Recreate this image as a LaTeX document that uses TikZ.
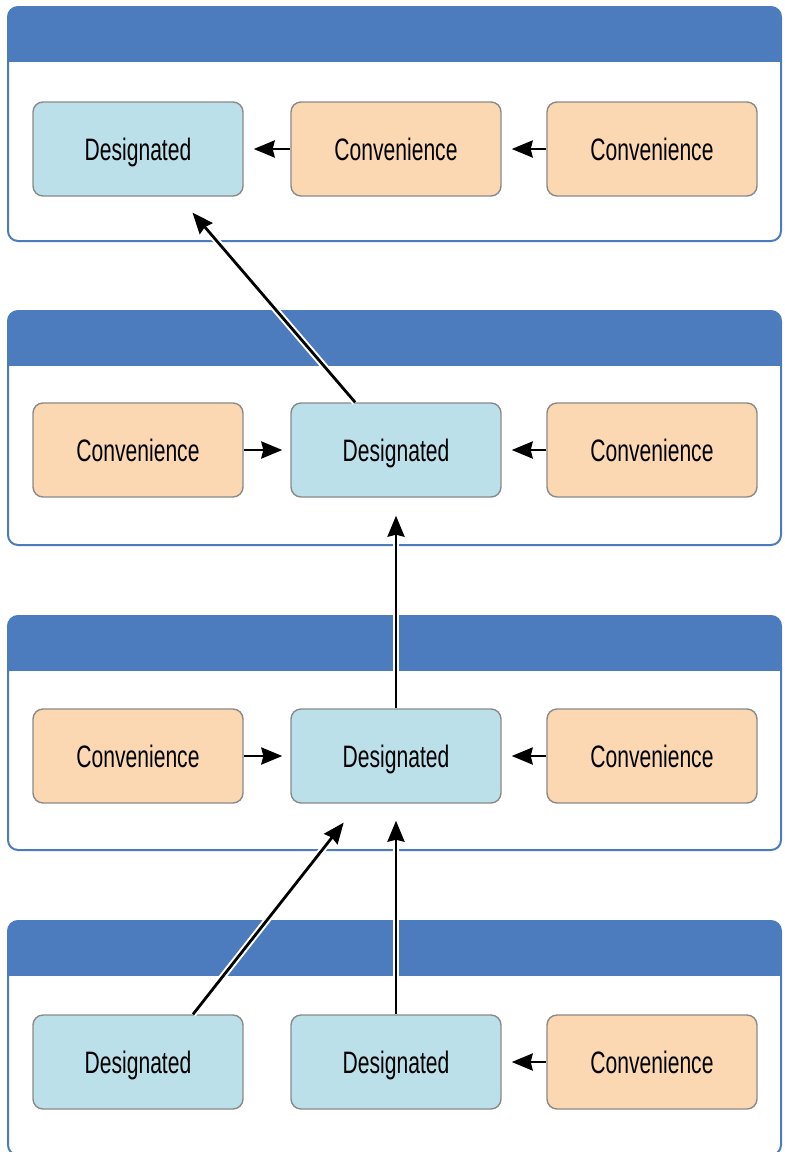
\documentclass[tikz,border=0pt]{standalone}
\usepackage{fontspec}
\setmainfont{Liberation Sans}[FakeStretch=0.68]
\usetikzlibrary{arrows.meta}
\definecolor{headblue}{RGB}{76,124,189}
\definecolor{desig}{RGB}{187,224,234}
\definecolor{conv}{RGB}{251,216,177}
\definecolor{boxline}{RGB}{138,138,138}

\begin{document}
\begin{tikzpicture}[x=0.5pt, y=-0.5pt,
	box/.style={draw=boxline, line width=0.7pt, rounded corners=5pt,
		minimum width=105pt, minimum height=47pt, inner sep=0pt,
		text height=11pt, text depth=0pt,
		font=\fontsize{15.5pt}{18pt}\selectfont},
	arr/.style={-{Stealth[length=10.5pt,width=8.5pt,inset=1pt]}, line width=1.4pt,
		preaction={draw=white, line width=3.4pt, -}}]
			\useasboundingbox (0,0) rectangle (784,1152);
			\clip (0,0) rectangle (784,1152);
			% the four class panels
			\foreach \t in {7,311,616,921} {
				\begin{scope}
					\clip[rounded corners=5pt] (8,\t) rectangle (781,\t+234);
					\fill[white] (8,\t) rectangle (781,\t+234);
					\fill[headblue] (8,\t) rectangle (781,\t+55);
				\end{scope}
				\draw[headblue, line width=1pt, rounded corners=5pt] (8,\t) rectangle (781,\t+234);
			}
			\node	(a) at (138,149) [box, fill=desig] {Designated};
			\node	(b) at (396,149) [box, fill=conv] {Convenience};
			\node	(c) at (652,149) [box, fill=conv] {Convenience};
			\node	(d) at (138,450) [box, fill=conv] {Convenience};
			\node	(e) at (396,450) [box, fill=desig] {Designated};
			\node	(f) at (652,450) [box, fill=conv] {Convenience};
			\node	(g) at (138,756) [box, fill=conv] {Convenience};
			\node	(h) at (396,756) [box, fill=desig] {Designated};
			\node	(i) at (652,756) [box, fill=conv] {Convenience};
			\node	(j) at (138,1062) [box, fill=desig] {Designated};
			\node	(k) at (396,1062) [box, fill=desig] {Designated};
			\node	(l) at (652,1062) [box, fill=conv] {Convenience};
			\draw
			(b) edge[arr, shorten >=5pt] (a)
			(c) edge[arr, shorten >=5pt] (b)
			(e) edge[arr, shorten >=10.5pt] (a)
			(d) edge[arr, shorten >=4pt] (e)
			(f) edge[arr, shorten >=5pt] (e)
			(h) edge[arr, shorten >=9pt] (e)
			(g) edge[arr, shorten >=4pt] (h)
			(i) edge[arr, shorten >=5pt] (h)
			([xshift=27.5pt]j.north) edge[arr, shorten >=12pt] (h)
			(k) edge[arr, shorten >=8.5pt] (h)
			(l) edge[arr, shorten >=5pt] (k)
			;
		\end{tikzpicture}
\end{document}
